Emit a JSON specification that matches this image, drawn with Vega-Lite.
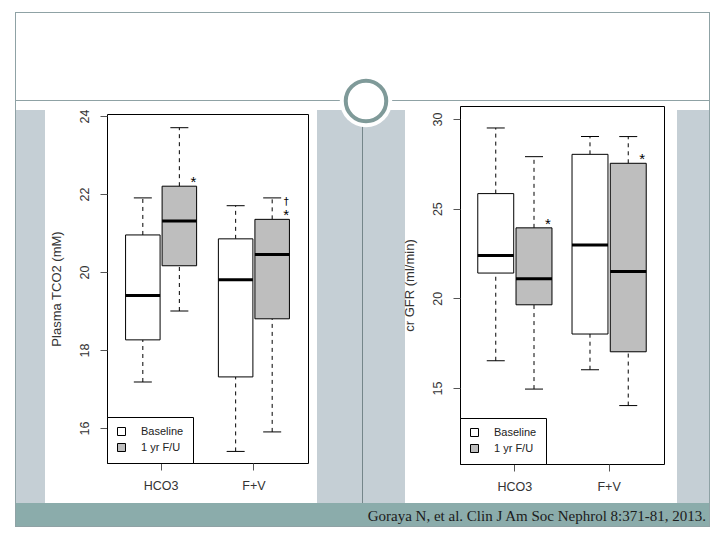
{
  "$schema": "https://vega.github.io/schema/vega-lite/v6.json",
  "background": "white",
  "padding": 0,
  "autosize": {"type": "pad"},
  "bounds": "flush",
  "spacing": 0,
  "resolve": {"scale": {"fill": "independent", "xOffset": "independent"}, "legend": {"fill": "independent"}},
  "config": {
    "view": {"stroke": null},
    "font": "Liberation Sans",
    "concat": {"spacing": 0},
    "axisX": {"domain": false, "grid": false, "tickSize": 7, "tickColor": "#555", "labelAngle": 0, "labelPadding": 9, "labelFontSize": 12.5, "labelColor": "#333", "labelFlush": false},
    "axisY": {"domain": false, "grid": false, "tickSize": 7, "tickColor": "#555", "labelAngle": 270, "labelAlign": "center", "labelBaseline": "bottom", "labelPadding": 9, "labelFontSize": 12.5, "labelColor": "#333", "labelFlush": false, "labelOverlap": false, "titleFontSize": 13, "titleFontWeight": "normal", "titleColor": "#333", "titlePadding": 15}
  },
  "vconcat": [
    {
      "bounds": "flush", "spacing": 0,
      "vconcat": [
        {"width": 1, "height": 503, "data": {"values": [{}]}, "mark": {"type": "point", "opacity": 0}},
        {
          "bounds": "flush", "spacing": 0,
          "hconcat": [
            {"width": 12, "height": 1, "data": {"values": [{}]}, "mark": {"type": "point", "opacity": 0}},
            {
              "width": 695, "height": 24,
              "view": {"fill": "#8bacab", "stroke": null},
              "data": {"values": [{"citation": "Goraya N, et al. Clin J Am Soc Nephrol 8:371-81, 2013."}]},
              "mark": {"type": "text", "align": "right", "baseline": "middle", "dx": -4, "dy": 1, "font": "Liberation Serif", "fontSize": 15, "color": "#1b1b1b"},
              "encoding": {"x": {"value": "width"}, "text": {"field": "citation", "type": "nominal"}}
            }
          ]
        }
      ]
    },
    {
      "bounds": "flush", "spacing": 0,
      "vconcat": [
        {"width": 1, "height": 110, "data": {"values": [{}]}, "mark": {"type": "point", "opacity": 0}},
        {
          "bounds": "flush", "spacing": 0,
          "hconcat": [
            {"width": 12, "height": 1, "data": {"values": [{}]}, "mark": {"type": "point", "opacity": 0}},
            {"width": 30, "height": 393, "data": {"values": [{}]}, "mark": {"type": "point", "opacity": 0}, "view": {"fill": "#c5cfd5", "stroke": null}},
            {"width": 272, "height": 1, "data": {"values": [{}]}, "mark": {"type": "point", "opacity": 0}},
            {"width": 88, "height": 393, "data": {"values": [{}]}, "mark": {"type": "point", "opacity": 0}, "view": {"fill": "#c5cfd5", "stroke": null}},
            {"width": 272, "height": 1, "data": {"values": [{}]}, "mark": {"type": "point", "opacity": 0}},
            {"width": 33, "height": 393, "data": {"values": [{}]}, "mark": {"type": "point", "opacity": 0}, "view": {"fill": "#c5cfd5", "stroke": null}}
          ]
        }
      ]
    },
    {
      "bounds": "flush", "spacing": 0,
      "vconcat": [
        {"width": 1, "height": 101, "data": {"values": [{}]}, "mark": {"type": "point", "opacity": 0}},
        {
          "bounds": "flush", "spacing": 0,
          "hconcat": [
            {"width": 359, "height": 1, "data": {"values": [{}]}, "mark": {"type": "point", "opacity": 0}},
            {"width": 1, "height": 402, "data": {"values": [{}]}, "mark": {"type": "point", "opacity": 0}, "view": {"fill": "#75868a", "stroke": null}}
          ]
        }
      ]
    },
    {
      "bounds": "flush", "spacing": 0,
      "vconcat": [
        {"width": 1, "height": 12, "data": {"values": [{}]}, "mark": {"type": "point", "opacity": 0}},
        {
          "bounds": "flush", "spacing": 0,
          "hconcat": [
            {"width": 12, "height": 1, "data": {"values": [{}]}, "mark": {"type": "point", "opacity": 0}},
            {"width": 695, "height": 1, "data": {"values": [{}]}, "mark": {"type": "point", "opacity": 0}, "view": {"fill": "#8fa2a5", "stroke": null}}
          ]
        },
        {
          "bounds": "flush", "spacing": 0,
          "hconcat": [
            {"width": 12, "height": 1, "data": {"values": [{}]}, "mark": {"type": "point", "opacity": 0}},
            {"width": 1, "height": 515, "data": {"values": [{}]}, "mark": {"type": "point", "opacity": 0}, "view": {"fill": "#8fa2a5", "stroke": null}},
            {"width": 693, "height": 1, "data": {"values": [{}]}, "mark": {"type": "point", "opacity": 0}},
            {"width": 1, "height": 515, "data": {"values": [{}]}, "mark": {"type": "point", "opacity": 0}, "view": {"fill": "#8fa2a5", "stroke": null}}
          ]
        },
        {"width": 1, "height": 88, "data": {"values": [{}]}, "mark": {"type": "point", "opacity": 0}},
        {
          "bounds": "flush", "spacing": 0,
          "hconcat": [
            {"width": 12, "height": 1, "data": {"values": [{}]}, "mark": {"type": "point", "opacity": 0}},
            {"width": 695, "height": 1, "data": {"values": [{}]}, "mark": {"type": "point", "opacity": 0}, "view": {"fill": "#8fa2a5", "stroke": null}}
          ]
        },
        {"width": 1, "height": 426, "data": {"values": [{}]}, "mark": {"type": "point", "opacity": 0}},
        {
          "bounds": "flush", "spacing": 0,
          "hconcat": [
            {"width": 12, "height": 1, "data": {"values": [{}]}, "mark": {"type": "point", "opacity": 0}},
            {"width": 695, "height": 1, "data": {"values": [{}]}, "mark": {"type": "point", "opacity": 0}, "view": {"fill": "#8fa2a5", "stroke": null}}
          ]
        }
      ]
    },
    {
      "bounds": "flush", "spacing": 0,
      "resolve": {"scale": {"fill": "independent", "xOffset": "independent"}, "legend": {"fill": "independent"}},
      "vconcat": [
        {"width": 1, "height": 114, "data": {"values": [{}]}, "mark": {"type": "point", "opacity": 0}},
        {
          "bounds": "flush", "spacing": 0,
          "resolve": {"scale": {"fill": "independent", "xOffset": "independent"}, "legend": {"fill": "independent"}},
          "hconcat": [
            {"width": 104, "height": 1, "data": {"values": [{}]}, "mark": {"type": "point", "opacity": 0}},
            {
              "width": 201, "height": 349,
              "view": {"stroke": "black", "strokeWidth": 1},
              "data": {"values": [
                {"test": "HCO3", "group": "Baseline", "min": 17.18, "q1": 18.26, "median": 19.40, "q3": 20.95, "max": 21.90, "star": "", "dagger": ""},
                {"test": "HCO3", "group": "1 yr F/U", "min": 19.00, "q1": 20.16, "median": 21.31, "q3": 22.20, "max": 23.70, "star": "*", "dagger": ""},
                {"test": "F+V", "group": "Baseline", "min": 15.40, "q1": 17.31, "median": 19.80, "q3": 20.85, "max": 21.70, "star": "", "dagger": ""},
                {"test": "F+V", "group": "1 yr F/U", "min": 15.90, "q1": 18.80, "median": 20.45, "q3": 21.35, "max": 21.90, "star": "*", "dagger": "\u2020"}
              ]},
              "encoding": {
                "x": {"field": "test", "type": "nominal", "sort": ["HCO3", "F+V"], "title": null, "scale": {"paddingInner": 0.2345, "paddingOuter": 0.2}},
                "xOffset": {"field": "group", "type": "nominal", "sort": ["Baseline", "1 yr F/U"], "scale": {"paddingInner": 0.055, "paddingOuter": 0}}
              },
              "layer": [
                {
                  "mark": {"type": "rule", "color": "black", "strokeWidth": 1, "strokeDash": [4, 4]},
                  "encoding": {
                    "y": {"field": "min", "type": "quantitative", "title": "Plasma TCO2 (mM)", "scale": {"domain": [15.103, 24.051], "nice": false, "zero": false}, "axis": {"values": [16, 18, 20, 22, 24]}},
                    "y2": {"field": "q1"}
                  }
                },
                {
                  "mark": {"type": "rule", "color": "black", "strokeWidth": 1, "strokeDash": [4, 4]},
                  "encoding": {
                    "y": {"field": "q3", "type": "quantitative", "title": "Plasma TCO2 (mM)", "scale": {"domain": [15.103, 24.051], "nice": false, "zero": false}, "axis": {"values": [16, 18, 20, 22, 24]}},
                    "y2": {"field": "max"}
                  }
                },
                {
                  "mark": {"type": "tick", "color": "black", "thickness": 1, "size": 18, "opacity": 1},
                  "encoding": {"y": {"field": "min", "type": "quantitative", "title": "Plasma TCO2 (mM)", "scale": {"domain": [15.103, 24.051], "nice": false, "zero": false}, "axis": {"values": [16, 18, 20, 22, 24]}}}
                },
                {
                  "mark": {"type": "tick", "color": "black", "thickness": 1, "size": 18, "opacity": 1},
                  "encoding": {"y": {"field": "max", "type": "quantitative", "title": "Plasma TCO2 (mM)", "scale": {"domain": [15.103, 24.051], "nice": false, "zero": false}, "axis": {"values": [16, 18, 20, 22, 24]}}}
                },
                {
                  "mark": {"type": "bar", "stroke": "black", "strokeWidth": 1, "opacity": 1},
                  "encoding": {
                    "y": {"field": "q1", "type": "quantitative", "title": "Plasma TCO2 (mM)", "scale": {"domain": [15.103, 24.051], "nice": false, "zero": false}, "axis": {"values": [16, 18, 20, 22, 24]}},
                    "y2": {"field": "q3"},
                    "fill": {
                      "field": "group", "type": "nominal", "sort": ["Baseline", "1 yr F/U"],
                      "scale": {"domain": ["Baseline", "1 yr F/U"], "range": ["white", "#bebebe"]},
                      "legend": {"title": null, "orient": "bottom-left", "offset": 0, "padding": 9, "strokeColor": "black", "fillColor": "white", "symbolType": "square", "symbolSize": 64, "symbolStrokeColor": "black", "symbolStrokeWidth": 1, "labelFontSize": 11, "labelColor": "#222", "labelOffset": 14, "rowPadding": 3}
                    }
                  }
                },
                {
                  "mark": {"type": "tick", "color": "black", "thickness": 3, "size": 34.5, "opacity": 1},
                  "encoding": {"y": {"field": "median", "type": "quantitative", "title": "Plasma TCO2 (mM)", "scale": {"domain": [15.103, 24.051], "nice": false, "zero": false}, "axis": {"values": [16, 18, 20, 22, 24]}}}
                },
                {
                  "transform": [{"filter": "datum.star != ''"}],
                  "mark": {"type": "text", "align": "center", "baseline": "bottom", "dx": 14, "dy": 4, "fontSize": 15, "color": "black"},
                  "encoding": {
                    "y": {"field": "q3", "type": "quantitative", "title": "Plasma TCO2 (mM)", "scale": {"domain": [15.103, 24.051], "nice": false, "zero": false}, "axis": {"values": [16, 18, 20, 22, 24]}},
                    "text": {"field": "star", "type": "nominal"}
                  }
                },
                {
                  "transform": [{"filter": "datum.dagger != ''"}],
                  "mark": {"type": "text", "align": "center", "baseline": "bottom", "dx": 14, "dy": -12, "font": "DejaVu Sans", "fontSize": 10, "color": "black"},
                  "encoding": {
                    "y": {"field": "q3", "type": "quantitative", "title": "Plasma TCO2 (mM)", "scale": {"domain": [15.103, 24.051], "nice": false, "zero": false}, "axis": {"values": [16, 18, 20, 22, 24]}},
                    "text": {"field": "dagger", "type": "nominal"}
                  }
                }
              ]
            }
          ]
        }
      ]
    },
    {
      "bounds": "flush", "spacing": 0,
      "resolve": {"scale": {"fill": "independent", "xOffset": "independent"}, "legend": {"fill": "independent"}},
      "vconcat": [
        {"width": 1, "height": 106, "data": {"values": [{}]}, "mark": {"type": "point", "opacity": 0}},
        {
          "bounds": "flush", "spacing": 0,
          "resolve": {"scale": {"fill": "independent", "xOffset": "independent"}, "legend": {"fill": "independent"}},
          "hconcat": [
            {"width": 457, "height": 1, "data": {"values": [{}]}, "mark": {"type": "point", "opacity": 0}},
            {
              "width": 204, "height": 358,
              "view": {"stroke": "black", "strokeWidth": 1},
              "data": {"values": [
                {"test": "HCO3", "group": "Baseline", "min": 16.52, "q1": 21.41, "median": 22.39, "q3": 25.84, "max": 29.50, "star": ""},
                {"test": "HCO3", "group": "1 yr F/U", "min": 14.94, "q1": 19.64, "median": 21.09, "q3": 23.93, "max": 27.90, "star": "*"},
                {"test": "F+V", "group": "Baseline", "min": 16.02, "q1": 18.01, "median": 22.98, "q3": 28.03, "max": 29.02, "star": ""},
                {"test": "F+V", "group": "1 yr F/U", "min": 14.02, "q1": 17.02, "median": 21.50, "q3": 27.53, "max": 29.02, "star": "*"}
              ]},
              "encoding": {
                "x": {"field": "test", "type": "nominal", "sort": ["HCO3", "F+V"], "title": null, "scale": {"paddingInner": 0.2127, "paddingOuter": 0.1886}},
                "xOffset": {"field": "group", "type": "nominal", "sort": ["Baseline", "1 yr F/U"], "scale": {"paddingInner": 0.06, "paddingOuter": 0}}
              },
              "layer": [
                {
                  "mark": {"type": "rule", "color": "black", "strokeWidth": 1, "strokeDash": [4, 4]},
                  "encoding": {
                    "y": {"field": "min", "type": "quantitative", "title": "cr GFR (ml/min)", "scale": {"domain": [10.762, 30.725], "nice": false, "zero": false}, "axis": {"values": [15, 20, 25, 30]}},
                    "y2": {"field": "q1"}
                  }
                },
                {
                  "mark": {"type": "rule", "color": "black", "strokeWidth": 1, "strokeDash": [4, 4]},
                  "encoding": {
                    "y": {"field": "q3", "type": "quantitative", "title": "cr GFR (ml/min)", "scale": {"domain": [10.762, 30.725], "nice": false, "zero": false}, "axis": {"values": [15, 20, 25, 30]}},
                    "y2": {"field": "max"}
                  }
                },
                {
                  "mark": {"type": "tick", "color": "black", "thickness": 1, "size": 18, "opacity": 1},
                  "encoding": {"y": {"field": "min", "type": "quantitative", "title": "cr GFR (ml/min)", "scale": {"domain": [10.762, 30.725], "nice": false, "zero": false}, "axis": {"values": [15, 20, 25, 30]}}}
                },
                {
                  "mark": {"type": "tick", "color": "black", "thickness": 1, "size": 18, "opacity": 1},
                  "encoding": {"y": {"field": "max", "type": "quantitative", "title": "cr GFR (ml/min)", "scale": {"domain": [10.762, 30.725], "nice": false, "zero": false}, "axis": {"values": [15, 20, 25, 30]}}}
                },
                {
                  "mark": {"type": "bar", "stroke": "black", "strokeWidth": 1, "opacity": 1},
                  "encoding": {
                    "y": {"field": "q1", "type": "quantitative", "title": "cr GFR (ml/min)", "scale": {"domain": [10.762, 30.725], "nice": false, "zero": false}, "axis": {"values": [15, 20, 25, 30]}},
                    "y2": {"field": "q3"},
                    "fill": {
                      "field": "group", "type": "nominal", "sort": ["Baseline", "1 yr F/U"],
                      "scale": {"domain": ["Baseline", "1 yr F/U"], "range": ["white", "#bebebe"]},
                      "legend": {"title": null, "orient": "bottom-left", "offset": 0, "padding": 9, "strokeColor": "black", "fillColor": "white", "symbolType": "square", "symbolSize": 64, "symbolStrokeColor": "black", "symbolStrokeWidth": 1, "labelFontSize": 11, "labelColor": "#222", "labelOffset": 14, "rowPadding": 3}
                    }
                  }
                },
                {
                  "mark": {"type": "tick", "color": "black", "thickness": 3, "size": 36, "opacity": 1},
                  "encoding": {"y": {"field": "median", "type": "quantitative", "title": "cr GFR (ml/min)", "scale": {"domain": [10.762, 30.725], "nice": false, "zero": false}, "axis": {"values": [15, 20, 25, 30]}}}
                },
                {
                  "transform": [{"filter": "datum.star != ''"}],
                  "mark": {"type": "text", "align": "center", "baseline": "bottom", "dx": 14, "dy": 4, "fontSize": 15, "color": "black"},
                  "encoding": {
                    "y": {"field": "q3", "type": "quantitative", "title": "cr GFR (ml/min)", "scale": {"domain": [10.762, 30.725], "nice": false, "zero": false}, "axis": {"values": [15, 20, 25, 30]}},
                    "text": {"field": "star", "type": "nominal"}
                  }
                }
              ]
            }
          ]
        }
      ]
    },
    {
      "bounds": "flush", "spacing": 0,
      "vconcat": [
        {"width": 1, "height": 73, "data": {"values": [{}]}, "mark": {"type": "point", "opacity": 0}},
        {
          "bounds": "flush", "spacing": 0,
          "hconcat": [
            {"width": 335, "height": 1, "data": {"values": [{}]}, "mark": {"type": "point", "opacity": 0}},
            {
              "width": 56, "height": 56,
              "data": {"values": [{}]},
              "layer": [
                {"mark": {"type": "point", "shape": "circle", "filled": true, "fill": "white", "stroke": null, "size": 2750, "opacity": 1}},
                {"mark": {"type": "point", "shape": "circle", "filled": true, "fill": "white", "stroke": "#7f9a99", "strokeWidth": 4, "size": 1640, "opacity": 1}}
              ]
            }
          ]
        }
      ]
    }
  ]
}
